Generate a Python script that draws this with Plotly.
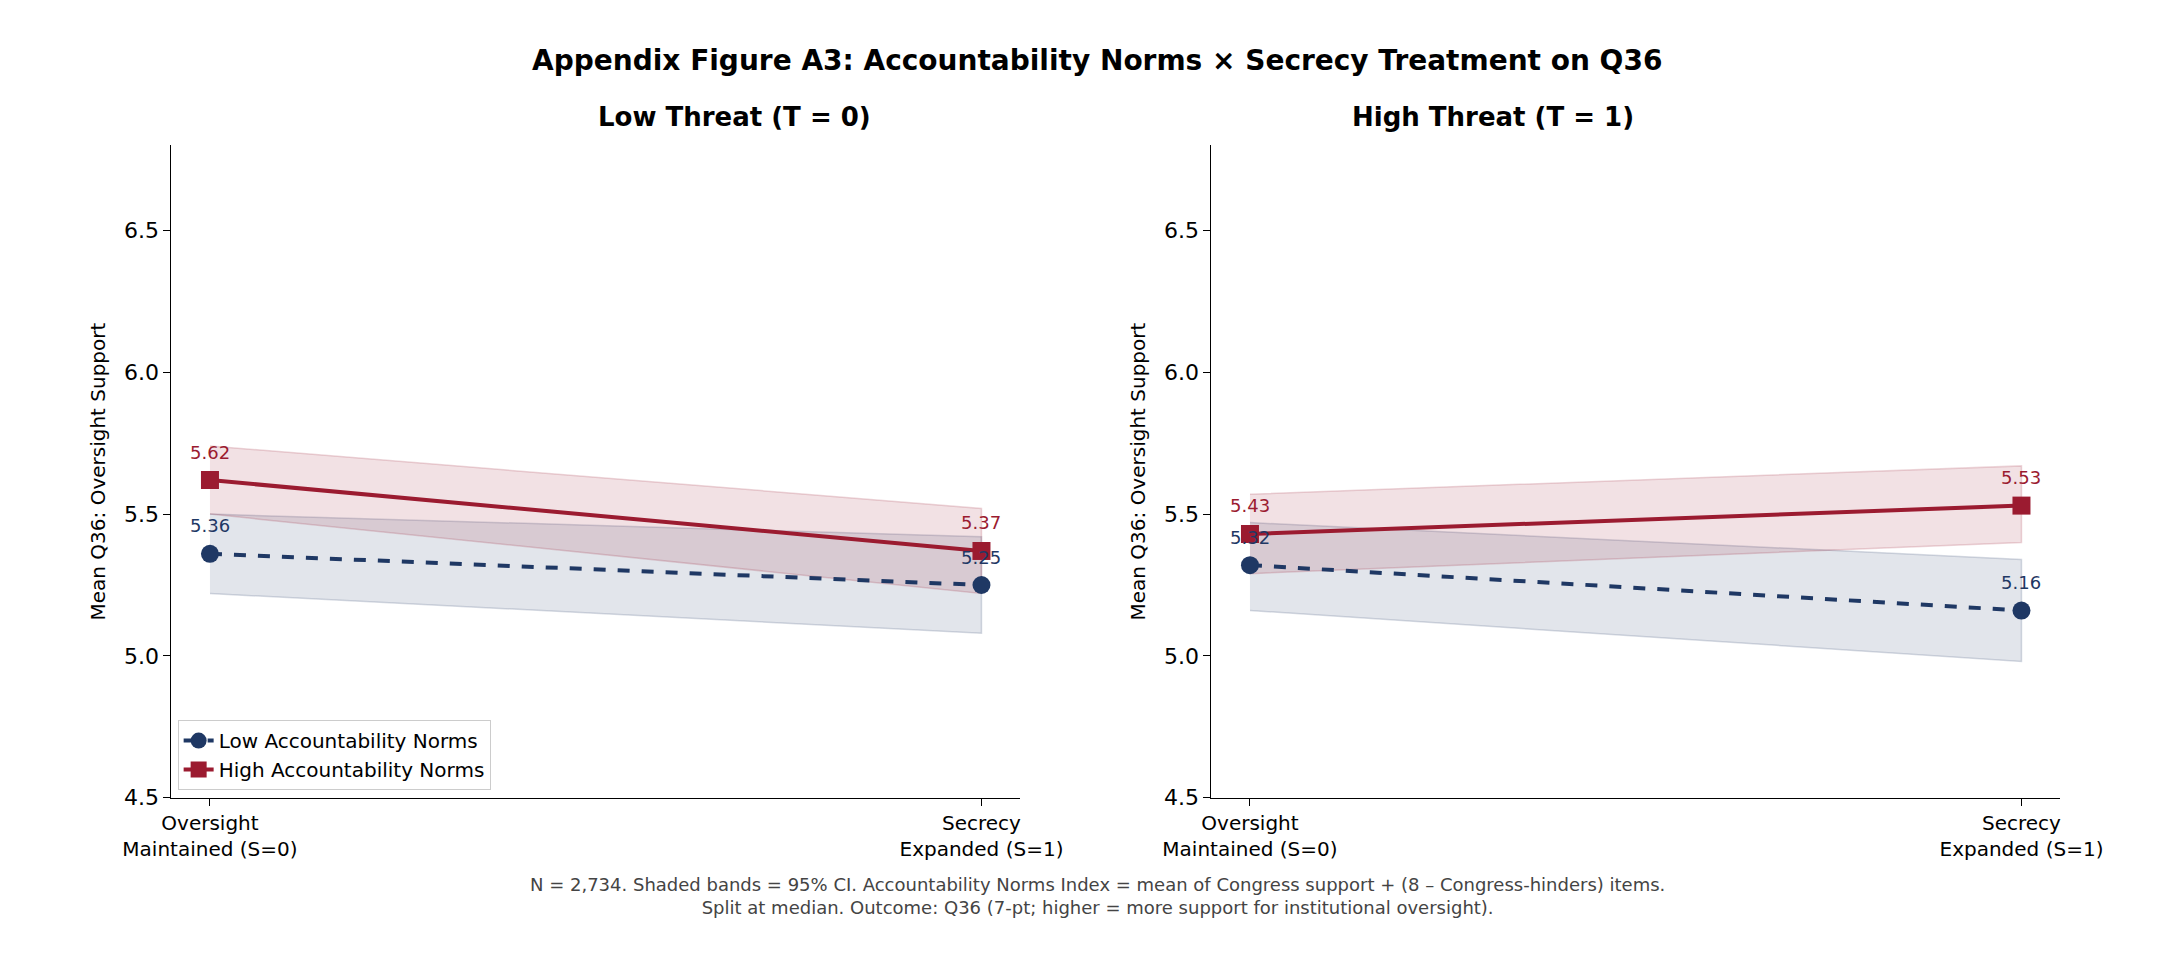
import plotly.graph_objects as go

x_pos = [0, 1]
x_labels = ["Oversight<br>Maintained (S=0)", "Secrecy<br>Expanded (S=1)"]
panels = ["Low Threat (T = 0)", "High Threat (T = 1)"]
low_mean = [[5.36, 5.25], [5.32, 5.16]]
low_lo = [[5.22, 5.08], [5.16, 4.98]]
low_hi = [[5.50, 5.42], [5.47, 5.34]]
high_mean = [[5.62, 5.37], [5.43, 5.53]]
high_lo = [[5.50, 5.22], [5.29, 5.40]]
high_hi = [[5.74, 5.52], [5.57, 5.67]]
y_ticks = [4.5, 5.0, 5.5, 6.0, 6.5]

NAVY = "#1f3864"
RED = "#9b1b30"
fig = go.Figure()
domains = [[0.055, 0.463], [0.555, 0.963]]
for i in range(2):
    xa = "x" if i == 0 else "x2"
    ya = "y" if i == 0 else "y2"
    for lo, hi, col, fc in [(low_lo[i], low_hi[i], NAVY, "rgba(31,56,100,0.13)"),
                            (high_lo[i], high_hi[i], RED, "rgba(155,27,48,0.13)")]:
        fig.add_trace(go.Scatter(x=x_pos + x_pos[::-1], y=hi + lo[::-1], fill="toself",
                                 fillcolor=fc, line=dict(color=fc.replace("0.13", "0.18"), width=1.5),
                                 mode="lines", showlegend=False, hoverinfo="skip", xaxis=xa, yaxis=ya))
    fig.add_trace(go.Scatter(x=x_pos, y=low_mean[i], mode="lines+markers",
                             line=dict(color=NAVY, width=4, dash="dash"),
                             marker=dict(symbol="circle", size=18, color=NAVY),
                             name="Low Accountability Norms", showlegend=(i == 0), xaxis=xa, yaxis=ya))
    fig.add_trace(go.Scatter(x=x_pos, y=high_mean[i], mode="lines+markers",
                             line=dict(color=RED, width=4),
                             marker=dict(symbol="square", size=18, color=RED),
                             name="High Accountability Norms", showlegend=(i == 0), xaxis=xa, yaxis=ya))
    for m, col in [(low_mean[i], NAVY), (high_mean[i], RED)]:
        for xv, yv in zip(x_pos, m):
            fig.add_annotation(x=xv, y=yv, xref=xa, yref=ya, text=f"{yv:.2f}", showarrow=False,
                               yshift=28, font=dict(size=18, color=col))
    ax = dict(domain=domains[i], range=[-0.05, 1.05], tickvals=x_pos, ticktext=x_labels,
              showline=True, linecolor="black", ticks="outside", tickcolor="black", ticklen=7,
              showgrid=False, zeroline=False, tickfont=dict(size=20, color="black"), anchor=ya)
    ay = dict(domain=[0.167, 0.855], range=[4.5, 6.8], tickvals=y_ticks,
              ticktext=[f"{t:.1f}" for t in y_ticks], showline=True, linecolor="black",
              ticks="outside", tickcolor="black", ticklen=7, showgrid=False, zeroline=False,
              tickfont=dict(size=22, color="black"), anchor=xa,
              title=dict(text="Mean Q36: Oversight Support", font=dict(size=20, color="black"), standoff=12))
    fig.layout["xaxis" if i == 0 else "xaxis2"] = ax
    fig.layout["yaxis" if i == 0 else "yaxis2"] = ay
    fig.add_annotation(x=sum(domains[i]) / 2, y=0.885, xref="paper", yref="paper", text=f"<b>{panels[i]}</b>",
                       showarrow=False, font=dict(size=26, color="black"), yanchor="middle")

fig.add_annotation(x=0.5, y=0.964, xref="paper", yref="paper",
                   text="<b>Appendix Figure A3: Accountability Norms × Secrecy Treatment on Q36</b>",
                   showarrow=False, font=dict(size=28, color="black"))
fig.add_annotation(x=0.5, y=0.038, xref="paper", yref="paper",
                   text="N = 2,734. Shaded bands = 95% CI. Accountability Norms Index = mean of Congress support + (8 – Congress-hinders) items.<br>Split at median. Outcome: Q36 (7-pt; higher = more support for institutional oversight).",
                   showarrow=False, font=dict(size=18, color="#444444"))
fig.update_layout(width=2172, height=961, margin=dict(l=0, r=0, t=0, b=0),
                  plot_bgcolor="white", paper_bgcolor="white",
                  font=dict(family="DejaVu Sans", color="black"),
                  legend=dict(x=0.058, y=0.175, xanchor="left", yanchor="bottom",
                              bordercolor="#cccccc", borderwidth=1, bgcolor="white",
                              font=dict(size=20)))
fig.write_html("out.html")
